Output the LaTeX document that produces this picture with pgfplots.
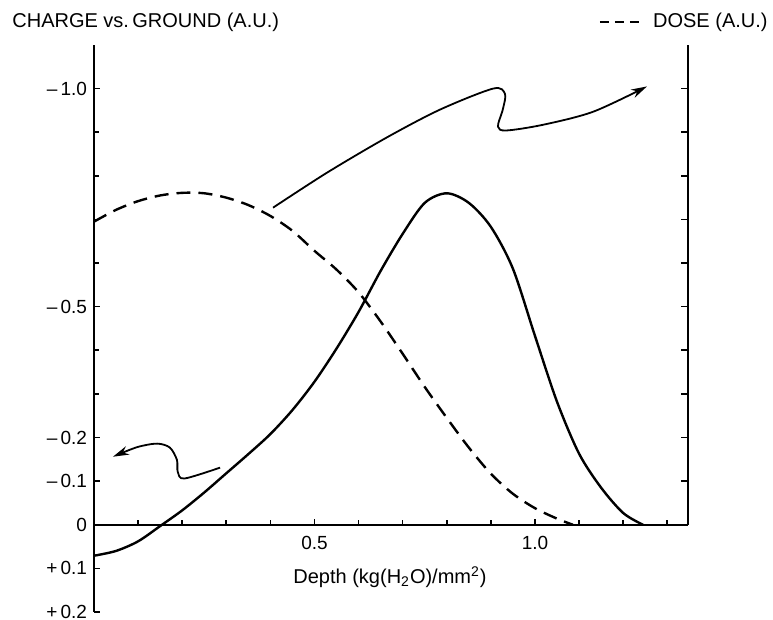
\documentclass[border=0pt]{standalone}
\usepackage{fontspec}
\setmainfont{Liberation Sans}
\usepackage{pgfplots}
\pgfplotsset{compat=1.18}
\usetikzlibrary{arrows.meta}
\begin{document}
\begin{tikzpicture}
\begin{axis}[
  at={(0,0)}, anchor=south west,
  scale only axis, width=297pt, height=283.5pt,
  xmin=0, xmax=1.347, ymin=-0.2, ymax=1.1,
  axis x line=middle, axis y line=left,
  axis line style={line width=0.9pt, -},
  xtick={0.5,1.0}, xticklabels={0.5,1.0},
  minor xtick={0.1,0.2,0.3,0.4,0.6,0.7,0.8,0.9,1.1,1.2,1.3},
  ytick={-0.2,-0.1,0,0.1,0.2,0.5,1.0},
  yticklabels={+\,0.2,+\,0.1,0,--\,0.1,--\,0.2,--\,0.5,--\,1.0},
  minor ytick={0.3,0.4,0.6,0.7,0.8,0.9},
  tick align=inside,
  major tick length=3pt, minor tick length=2.5pt,
  tick style={line width=0.8pt, black},
  tick label style={font=\fontsize{9.5}{11}\selectfont},
  xticklabel style={yshift=-2pt},
  clip=false,
]
% charge vs ground (solid)
\addplot[line width=1.2pt, smooth] coordinates {
  (0,-0.071)(0.05,-0.060)(0.10,-0.038)(0.15,-0.003)(0.20,0.033)
  (0.25,0.074)(0.30,0.118)(0.35,0.162)(0.40,0.208)(0.45,0.263)
  (0.50,0.328)(0.55,0.404)(0.60,0.488)(0.65,0.582)(0.70,0.667)
  (0.75,0.738)(0.80,0.760)(0.85,0.738)(0.90,0.683)(0.95,0.587)
  (1.00,0.433)(1.05,0.282)(1.10,0.163)(1.15,0.085)(1.20,0.027)(1.245,0)};
% dose (dashed)
\addplot[line width=1.2pt, smooth, dash pattern=on 7pt off 4pt] coordinates {
  (0,0.695)(0.05,0.722)(0.10,0.742)(0.15,0.755)(0.20,0.761)(0.25,0.760)
  (0.30,0.750)(0.35,0.733)(0.40,0.708)(0.45,0.674)(0.50,0.628)
  (0.55,0.585)(0.60,0.533)(0.65,0.466)(0.70,0.392)(0.75,0.316)
  (0.80,0.245)(0.85,0.177)(0.90,0.117)(0.95,0.071)(1.00,0.038)
  (1.05,0.014)(1.086,0)};
% arrows to the axes
\addplot[line width=0.9pt, smooth, -{Stealth[length=8pt,width=4.5pt]}] coordinates {
  (0.406,0.727)(0.528,0.807)(0.664,0.888)(0.785,0.952)(0.905,1.0)
  (0.932,0.988)(0.927,0.952)(0.916,0.913)(0.935,0.904)(1.018,0.917)
  (1.132,0.947)(1.254,1.005)};
\addplot[line width=0.9pt, smooth, -{Stealth[length=8pt,width=4.5pt]}] coordinates {
  (0.286,0.131)(0.205,0.106)(0.19,0.121)(0.188,0.149)(0.172,0.177)
  (0.143,0.186)(0.098,0.178)(0.043,0.156)};
% right axis
\draw[line width=0.9pt] (axis cs:1.347,0) -- (axis cs:1.347,1.1);
\pgfplotsinvokeforeach{0.1,0.2,0.3,0.4,0.5,0.6,0.7,0.8,0.9,1.0}{
  \draw[line width=0.8pt] (axis cs:1.347,#1) -- ++(-3.5pt,0pt);
}
\end{axis}
\node[anchor=west, font=\fontsize{10}{12}\selectfont, inner sep=0pt] at (-41pt,295pt) {CHARGE vs.\,GROUND (A.U.)};
\draw[line width=1pt, dash pattern=on 4.5pt off 3pt] (253pt,295pt) -- (273pt,295pt);
\node[anchor=east, font=\fontsize{10}{12}\selectfont, inner sep=0pt] at (337pt,295pt) {DOSE (A.U.)};
\node[font=\fontsize{10}{12}\selectfont] at (148pt,17.5pt) {Depth (kg(H\textsubscript{2}O)/mm\textsuperscript{2})};
\pgfresetboundingbox
\path[use as bounding box] (-47pt,-4pt) rectangle (339.5pt,306pt);
\end{tikzpicture}
\end{document}
